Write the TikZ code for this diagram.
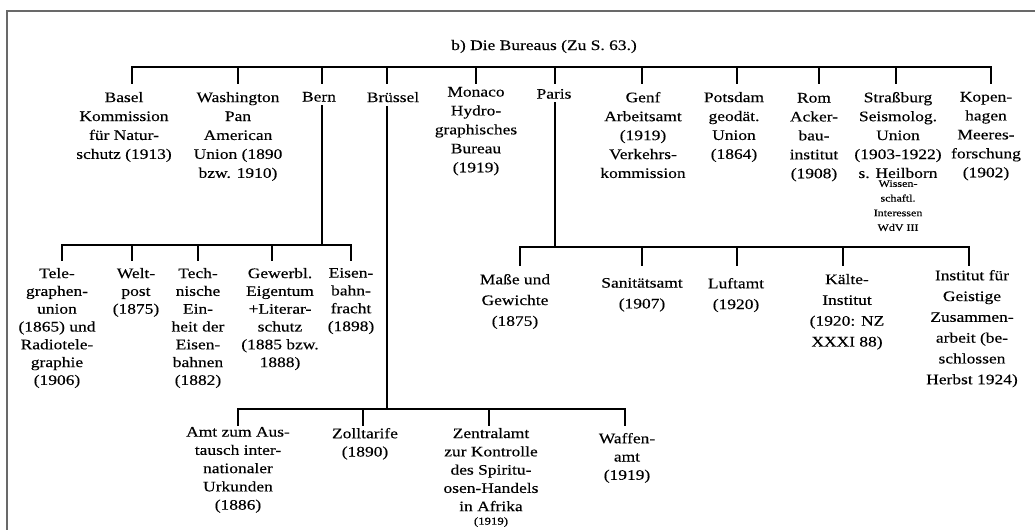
\documentclass[tikz,border=0pt]{standalone}
\usepackage{fontspec}
\setmainfont[FakeStretch=1.2,FakeBold=0.3]{Liberation Serif}
\begin{document}
\begin{tikzpicture}[x=0.75pt,y=-0.75pt,
  lbl/.style={align=center, inner sep=0pt, anchor=north},
  toprow/.style={lbl, font=\fontsize{10.9}{14.2}\selectfont, outer ysep=6.75pt},
  bernrow/.style={lbl, font=\fontsize{10.9}{13.35}\selectfont, outer ysep=6pt},
  parisrow/.style={lbl, font=\fontsize{10.9}{15.6}\selectfont},
  bruerow/.style={lbl, font=\fontsize{10.9}{13.7}\selectfont},
  smalltxt/.style={lbl, font=\fontsize{7.5}{11}\selectfont},
  tree/.style={line width=1.8pt, line cap=rect},
  frame/.style={line width=1.5pt, draw={rgb,255:red,105;green,105;blue,105}}
]
\useasboundingbox (0,0) rectangle (1035,529);
\clip (0,0) rectangle (1035,529);

% frame
\draw[frame] (7,540) -- (7,11) -- (1045,11);

% title
\node[font=\fontsize{10.9}{14}\selectfont, anchor=base, inner sep=0pt] (title) at (544,50) {b) Die Bureaus (Zu S. 63.)};

% top row junctions
\foreach \n/\x in {tBasel/132,tWash/238,tBern/322,tBrue/387,tMon/476,tPar/555,tGenf/642,tPots/737,tRom/819,tStr/896,tKop/991}
  \coordinate (\n) at (\x,67);

% top row nodes
\node[toprow] (basel) at (124,83) {Basel\\Kommission\\für Natur-\\schutz (1913)};
\node[toprow] (wash) at (238,83) {Washington\\Pan\\American\\Union (1890\\bzw. 1910)};
\node[toprow] (bern) at (319,83) {Bern};
\node[toprow] (bruessel) at (393,83) {Brüssel};
\node[toprow, outer ysep=3pt] (monaco) at (476,83) {Monaco\\Hydro-\\graphisches\\Bureau\\(1919)};
\node[toprow, outer ysep=4.5pt] (paris) at (554,83) {Paris};
\node[toprow] (genf) at (643,83) {Genf\\Arbeitsamt\\(1919)\\Verkehrs-\\kommission};
\node[toprow] (potsdam) at (734,83) {Potsdam\\geodät.\\Union\\(1864)};
\node[toprow, outer ysep=7.5pt] (rom) at (814,83) {Rom\\Acker-\\bau-\\institut\\(1908)};
\node[toprow] (strass) at (898,83) {Straßburg\\Seismolog.\\Union\\(1903-1922)\\s. Heilborn};
\node[smalltxt] (strsmall) at (898,180) {Wissen-\\schaftl.\\Interessen\\WdV III};
\node[toprow] (kopen) at (986,83) {Kopen-\\hagen\\Meeres-\\forschung\\(1902)};

\draw[tree] (tBasel) -- (tKop);
\foreach \j/\n in {tBasel/basel,tWash/wash,tBern/bern,tBrue/bruessel,tMon/monaco,tPar/paris,tGenf/genf,tPots/potsdam,tRom/rom,tStr/strass,tKop/kopen}
  \draw[tree] (\j) -- (\j |- \n.north);

% Bern branch
\coordinate (bBern) at (322,245);
\foreach \n/\x in {bTele/62,bWelt/132,bTech/198,bGew/272,bEis/351}
  \coordinate (\n) at (\x,245);
\node[bernrow] (tele) at (57,260) {Tele-\\graphen-\\union\\(1865) und\\Radiotele-\\graphie\\(1906)};
\node[bernrow] (welt) at (136,260) {Welt-\\post\\(1875)};
\node[bernrow] (tech) at (198,260) {Tech-\\nische\\Ein-\\heit der\\Eisen-\\bahnen\\(1882)};
\node[bernrow] (gew) at (280,260) {Gewerbl.\\Eigentum\\+Literar-\\schutz\\(1885 bzw.\\1888)};
\node[bernrow] (eisen) at (351,260) {Eisen-\\bahn-\\fracht\\(1898)};
\draw[tree] ([yshift=3pt]bern.south -| bBern) -- (bBern);
\draw[tree] (bTele) -- (bEis);
\foreach \j/\n in {bTele/tele,bWelt/welt,bTech/tech,bGew/gew,bEis/eisen}
  \draw[tree] (\j) -- (\j |- \n.north);

% Paris branch
\coordinate (pPar) at (555,247);
\foreach \n/\x in {pMasse/520,pSan/642,pLuft/737,pKae/843,pInst/969}
  \coordinate (\n) at (\x,247);
\node[parisrow, outer ysep=6.75pt] (masse) at (515,265) {Maße und\\Gewichte\\(1875)};
\node[parisrow, outer ysep=9.75pt] (sanit) at (642,265) {Sanitätsamt\\(1907)};
\node[parisrow, outer ysep=9.75pt] (luft) at (736,265) {Luftamt\\(1920)};
\node[parisrow, outer ysep=6.75pt] (kaelte) at (847,265) {Kälte-\\Institut\\(1920: NZ\\XXXI 88)};
\node[parisrow, outer ysep=3.75pt] (instit) at (972,265) {Institut für\\Geistige\\Zusammen-\\arbeit (be-\\schlossen\\Herbst 1924)};
\draw[tree] ([yshift=1.5pt]paris.south -| pPar) -- (pPar);
\draw[tree] (pMasse) -- (pInst);
\foreach \j/\n in {pMasse/masse,pSan/sanit,pLuft/luft,pKae/kaelte,pInst/instit}
  \draw[tree] (\j) -- (\j |- \n.north);

% Bruessel branch
\coordinate (rBrue) at (387,409);
\foreach \n/\x in {rAmt/238,rZoll/363,rZent/489,rWaf/625}
  \coordinate (\n) at (\x,409);
\node[bruerow, outer ysep=1.5pt] (amt) at (238,425) {Amt zum Aus-\\tausch inter-\\nationaler\\Urkunden\\(1886)};
\node[bruerow, outer ysep=2.25pt] (zoll) at (365,425) {Zolltarife\\(1890)};
\node[bruerow, outer ysep=2.25pt] (zentral) at (491,425) {Zentralamt\\zur Kontrolle\\des Spiritu-\\osen-Handels\\in Afrika};
\node[lbl, font=\fontsize{8}{10}\selectfont] (zsmall) at (491,517) {(1919)};
\node[bruerow, outer ysep=6pt] (waffen) at (627,425) {Waffen-\\amt\\(1919)};
\draw[tree] ([yshift=3pt]bruessel.south -| rBrue) -- (rBrue);
\draw[tree] (rAmt) -- (rWaf);
\foreach \j/\n in {rAmt/amt,rZoll/zoll,rZent/zentral,rWaf/waffen}
  \draw[tree] (\j) -- (\j |- \n.north);
\end{tikzpicture}
\end{document}
